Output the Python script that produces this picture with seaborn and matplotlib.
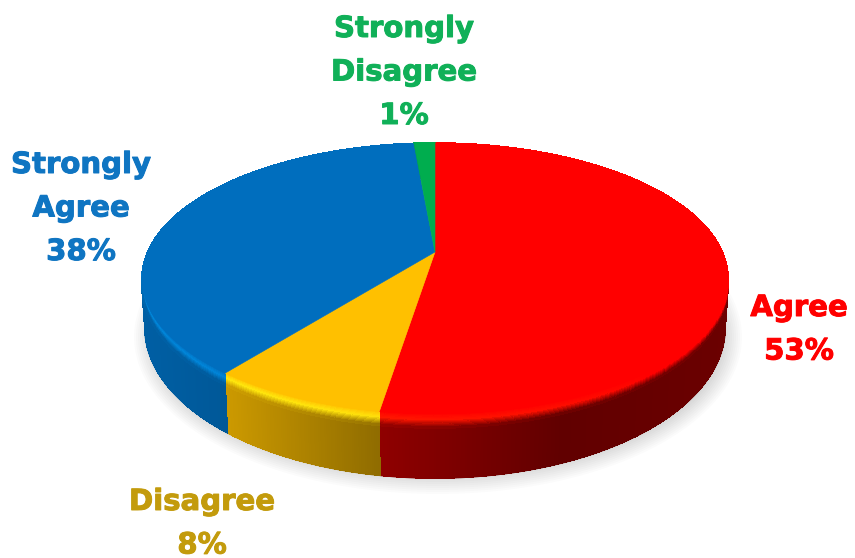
import numpy as np
import seaborn as sns
import matplotlib
matplotlib.use("Agg")
import matplotlib.pyplot as plt
import matplotlib.patheffects as pe
from matplotlib.collections import PolyCollection, LineCollection
from matplotlib.patches import Rectangle

# clockwise from 12 o'clock, shares (labels are rounded)
slices = ["Agree", "Disagree", "Strongly Agree", "Strongly Disagree"]
shares = [52.5, 8.1, 38.0, 1.4]
pct_labels = ["53%", "8%", "38%", "1%"]
label_lines = [["Agree"], ["Disagree"], ["Strongly", "Agree"], ["Strongly", "Disagree"]]

face_colors = ["#FF0000", "#FFC000", "#006EBE", "#00AD4E"]
glow_colors = ["#FF2200", "#FFEE10", "#0088DC", "#00AD4E"]
text_colors = ["#FF0000", "#C39B0C", "#0F75C2", "#10B058"]
label_x = [799, 202, 81, 404]
label_base = [316, 510, 173, 37]
line_gap = 43.5

# ellipses in pixel coords: top face, outer lip, foot of the wall
cx = 435
apex_y = 252
back, front = 109.0, 162.0
k = (front - back) / (front + back)
a = back * (1 + k)
rx = 293.0
b = rx * np.sqrt(1 - k ** 2)
top_cy, top_ry = 278.5, 135.5
lip_cy, lip_ry = 286.0, 142.0
foot_cy, foot_ry, foot_rx = 328.0, 150.0, 290.0

sns.set_theme(style="white")
fig, ax = plt.subplots(figsize=(8.55, 5.58), dpi=100)
fig.subplots_adjust(0, 0, 1, 1)
ax.set_xlim(0, 855)
ax.set_ylim(558, 0)
ax.axis("off")


def project(theta):
    # perspective view of the unit circle, so the apex sits above the ellipse centre
    u, v = np.sin(theta), np.cos(theta)
    w = 1 + k * v
    return cx + b * u / w, apex_y - a * v / w


def wall_shade(x):
    return np.interp(x, [145, 225, 380, 560, 728], [0.86, 0.8, 0.56, 0.38, 0.42])


def mix(c1, c2, f):
    return tuple((1 - f) * np.array(c1) + f * np.array(c2))


# soft shadow under the pie
for i in range(12):
    t = np.linspace(0, 2 * np.pi, 200)
    ax.fill(cx + 3 + (304 - 2 * i) * np.cos(t), 337 + (157 - 2 * i) * np.sin(t),
            color="black", alpha=0.014, lw=0)

edges = np.cumsum([0] + shares) / sum(shares) * 2 * np.pi
colors = sns.color_palette(face_colors)
glows = sns.color_palette(glow_colors)

wall_polys, wall_cols = [], []
foot_segs = []
rim_polys, rim_cols = [], []
bands = 12

for i in range(len(shares)):
    theta = np.linspace(edges[i], edges[i + 1], max(int(shares[i] * 10), 8))
    x, y = project(theta)
    t = np.arctan2((y - top_cy) / top_ry, (x - cx) / rx)

    for j in range(len(t) - 1):
        tt = t[j:j + 2]
        lip_x = cx + rx * np.cos(tt)
        lip_y = lip_cy + lip_ry * np.sin(tt)
        foot_x = cx + foot_rx * np.cos(tt)
        foot_y = foot_cy + foot_ry * np.sin(tt)
        wall_polys.append(list(zip(lip_x, lip_y)) + list(zip(foot_x[::-1], foot_y[::-1])))
        foot_segs.append(list(zip(foot_x, foot_y)))
        dark = tuple(np.array(colors[i]) * wall_shade(lip_x.mean()))
        wall_cols.append(dark)

        # lip between the flat face and the wall: face -> glow -> wall colour
        low = np.clip(np.sin(tt.mean()) * 2.5 + 0.6, 0, 1)
        glow_amt = low * np.clip(1.15 - lip_x.mean() / 560, 0, 1) ** 0.5
        for n in range(bands):
            s0, s1 = n / bands, (n + 1) / bands
            in_y = top_cy + s0 * (lip_cy - top_cy) + (top_ry + s0 * (lip_ry - top_ry)) * np.sin(tt)
            out_y = top_cy + s1 * (lip_cy - top_cy) + (top_ry + s1 * (lip_ry - top_ry)) * np.sin(tt)
            rim_polys.append(list(zip(lip_x, in_y)) + list(zip(lip_x[::-1], out_y[::-1])))
            s = (s0 + s1) / 2
            if s < 0.45:
                c = mix(colors[i], glows[i], glow_amt * s / 0.45)
            else:
                c = mix(mix(colors[i], glows[i], glow_amt), dark, low * (s - 0.45) / 0.55)
            rim_cols.append(c)

ax.add_collection(LineCollection(foot_segs, colors=wall_cols, linewidths=1.2, zorder=2))
ax.add_collection(PolyCollection(wall_polys, facecolors=wall_cols, edgecolors=wall_cols,
                                 linewidths=0.5, antialiaseds=False, zorder=2))
ax.add_collection(PolyCollection(rim_polys, facecolors=rim_cols, edgecolors=rim_cols,
                                 linewidths=0.5, antialiaseds=False, zorder=3))

# flat top face
for i in range(len(shares)):
    theta = np.linspace(edges[i], edges[i + 1], max(int(shares[i] * 6), 8))
    x, y = project(theta)
    ax.fill(np.r_[cx, x], np.r_[apex_y, y], color=colors[i], lw=0.4, zorder=4)

page = Rectangle((0, 14), 855, 544, transform=ax.transData)
for i in range(len(slices)):
    for n, line in enumerate(label_lines[i] + [pct_labels[i]]):
        txt = ax.text(label_x[i], label_base[i] + n * line_gap, line, color=text_colors[i],
                      fontsize=21, fontweight="bold", family="DejaVu Sans",
                      ha="center", va="baseline", clip_on=True, zorder=5,
                      path_effects=[pe.withStroke(linewidth=0.7, foreground=text_colors[i])])
        txt.set_clip_path(page)

fig.savefig("out.png", dpi=100)
